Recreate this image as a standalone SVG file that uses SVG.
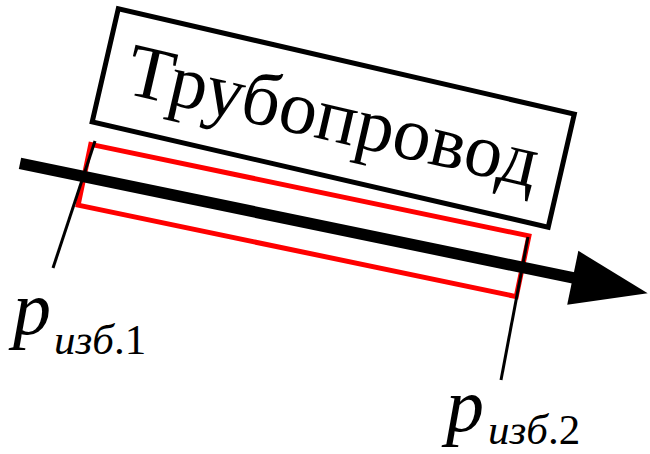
<svg xmlns="http://www.w3.org/2000/svg" width="650" height="454" viewBox="0 0 650 454">
  <style>
    .serif { font-family: "Liberation Serif", "Times New Roman", serif; fill: #000; }
    .it { font-style: italic; }
    .thin { stroke: #000; stroke-width: 3; fill: none; }
  </style>
  <rect width="650" height="454" fill="#fff"/>
  <g id="pipeline-label" transform="translate(333.25,118) rotate(13)">
    <rect x="-234" y="-58" width="468" height="116" fill="none" stroke="#000" stroke-width="5"/>
    <text class="serif" x="0" y="23" font-size="76" text-anchor="middle">Трубопровод</text>
  </g>
  <g id="pipe-section" transform="translate(303.5,220.5) rotate(11.8)">
    <rect x="-223.8" y="-31" width="447.6" height="62" fill="none" stroke="#ff0000" stroke-width="5"/>
  </g>
  <g id="connectors">
    <g id="flow-arrow" transform="translate(20,163.3) rotate(11.7)">
      <line x1="0" y1="0" x2="570" y2="0" stroke="#000" stroke-width="11.5"/>
      <polygon points="564.5,-27.5 641,0 564.5,27.5" fill="#000"/>
    </g>
    <line class="thin" x1="95" y1="141" x2="53" y2="268"/>
    <line class="thin" x1="528" y1="237" x2="501" y2="380"/>
  </g>
  <g id="p1">
    <text class="serif" x="13" y="334" font-size="76"><tspan class="it">p</tspan></text>
    <text class="serif" x="54" y="354" font-size="43"><tspan class="it">изб</tspan>.1</text>
  </g>
  <g id="p2">
    <text class="serif" x="446" y="431" font-size="76"><tspan class="it">p</tspan></text>
    <text class="serif" x="488" y="444" font-size="43"><tspan class="it">изб</tspan>.2</text>
  </g>
</svg>
